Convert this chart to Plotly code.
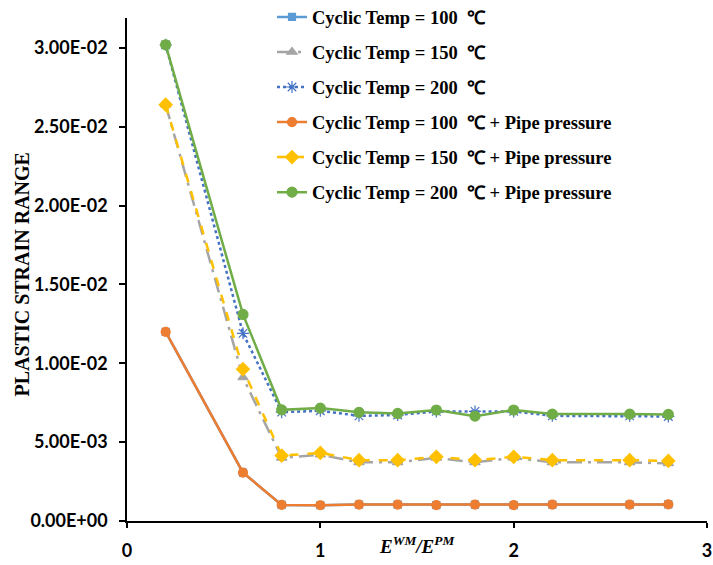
import plotly.graph_objects as go

# Stiffness ratio of weld metal to pipe metal
ratio = [0.2, 0.6, 0.8, 1.0, 1.2, 1.4, 1.6, 1.8, 2.0, 2.2, 2.6, 2.8]

# Plastic strain range for each loading case
temp100 = [0.0120, 0.00307, 0.00102, 0.00100, 0.00104, 0.00104, 0.00101, 0.00104, 0.00101, 0.00104, 0.00104, 0.00105]
temp150 = [0.0264, 0.0091, 0.00400, 0.00420, 0.00372, 0.00372, 0.00400, 0.00372, 0.00400, 0.00372, 0.00372, 0.00365]
temp200 = [0.0302, 0.0119, 0.00690, 0.00699, 0.00667, 0.00672, 0.00695, 0.00695, 0.00695, 0.00667, 0.00667, 0.00663]
temp100_p = [0.0120, 0.00307, 0.00102, 0.00100, 0.00104, 0.00104, 0.00101, 0.00104, 0.00101, 0.00104, 0.00104, 0.00105]
temp150_p = [0.0264, 0.00963, 0.00415, 0.00432, 0.00386, 0.00386, 0.00407, 0.00386, 0.00407, 0.00386, 0.00386, 0.00381]
temp200_p = [0.0302, 0.0131, 0.00705, 0.00716, 0.00689, 0.00682, 0.00704, 0.00665, 0.00704, 0.00678, 0.00678, 0.00676]

series_names = [
    "Cyclic Temp = 100  \u2103",
    "Cyclic Temp = 150  \u2103",
    "Cyclic Temp = 200  \u2103",
    "Cyclic Temp = 100  \u2103 + Pipe pressure",
    "Cyclic Temp = 150  \u2103 + Pipe pressure",
    "Cyclic Temp = 200  \u2103 + Pipe pressure",
]

y_tick_vals = [0.0, 0.005, 0.010, 0.015, 0.020, 0.025, 0.030]
y_tick_text = ["0.00E+00", "5.00E-03", "1.00E-02", "1.50E-02", "2.00E-02", "2.50E-02", "3.00E-02"]
x_tick_vals = [0, 1, 2, 3]

serif = "Liberation Serif, Times New Roman, serif"
sans = "Lato, Calibri, sans-serif"

styles = [
    dict(color="#5B9BD5", dash="solid", symbol="square", size=7),
    dict(color="#A5A5A5", dash="longdashdot", symbol="triangle-up", size=9),
    dict(color="#4472C4", dash="dot", symbol="asterisk-open", size=10),
    dict(color="#ED7D31", dash="solid", symbol="circle", size=9),
    dict(color="#FFC000", dash="dash", symbol="diamond", size=10),
    dict(color="#70AD47", dash="solid", symbol="circle", size=10),
]

fig = go.Figure()
for i, (name, ys, st) in enumerate(zip(series_names,
                                       [temp100, temp150, temp200, temp100_p, temp150_p, temp200_p],
                                       styles)):
    fig.add_trace(go.Scatter(
        x=ratio, y=ys, name=name, mode="lines+markers",
        legendgroup=f"g{i}",
        line=dict(color=st["color"], width=2.5, dash=st["dash"]),
        marker=dict(color=st["color"], symbol=st["symbol"], size=st["size"],
                    line=dict(color=st["color"], width=1.2)),
    ))

fig.update_layout(
    width=713, height=565,
    margin=dict(l=127, r=6, t=18, b=44, autoexpand=False),
    paper_bgcolor="white", plot_bgcolor="white",
    showlegend=True,
    legend=dict(
        x=0.25, y=1.039, xanchor="left", yanchor="top",
        bgcolor="rgba(0,0,0,0)",
        font=dict(family=serif, size=18.5, color="black", weight="bold"),
        tracegroupgap=8, traceorder="grouped",
    ),
    xaxis=dict(
        range=[0, 3], tickvals=x_tick_vals,
        showline=True, linecolor="black", linewidth=1.5,
        ticks="outside", ticklen=5, tickwidth=1.5, tickcolor="black",
        showgrid=False, zeroline=False,
        tickfont=dict(family=sans, size=18, color="black", weight="bold"),
        ticklabelstandoff=8,
    ),
    yaxis=dict(
        range=[0, 0.0319], tickvals=y_tick_vals, ticktext=y_tick_text,
        showline=True, linecolor="black", linewidth=1.5,
        ticks="outside", ticklen=6, tickwidth=1.5, tickcolor="black",
        showgrid=False, zeroline=False,
        tickfont=dict(family=sans, size=18, color="black", weight="bold"),
        ticklabelstandoff=8,
    ),
    annotations=[
        dict(text="<b><i>E<sup>WM</sup>/E<sup>PM</sup></i></b>",
             xref="paper", yref="paper", x=(417 - 127) / 580, y=-0.048,
             xanchor="center", yanchor="middle", showarrow=False,
             font=dict(family=serif, size=19, color="black")),
        dict(text="<b>PLASTIC STRAIN RANGE</b>",
             xref="paper", yref="paper", x=(22 - 127) / 580, y=0.49,
             xanchor="center", yanchor="middle", showarrow=False, textangle=-90,
             font=dict(family=serif, size=20, color="black")),
    ],
)

fig.write_html("out.html")
